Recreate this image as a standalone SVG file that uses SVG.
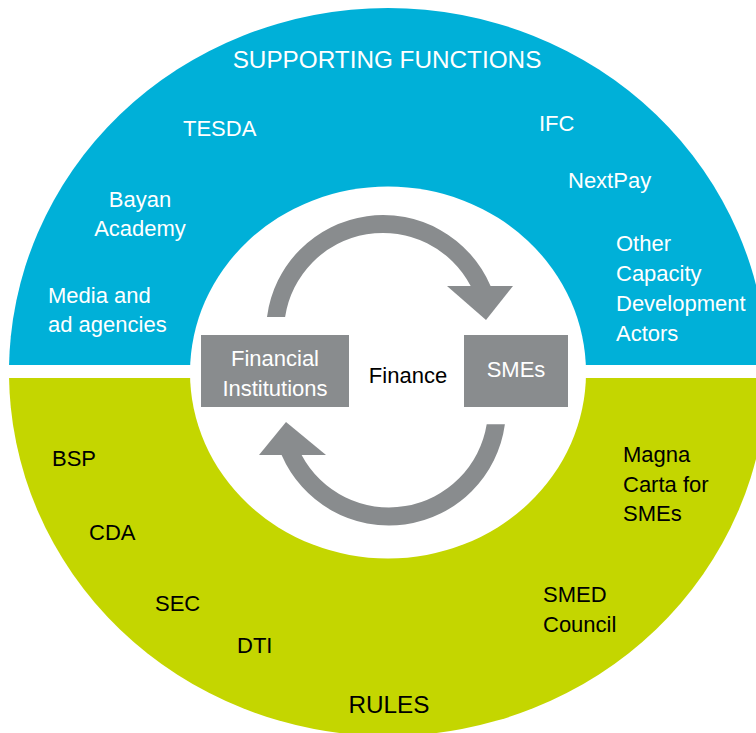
<svg xmlns="http://www.w3.org/2000/svg" width="756" height="733" viewBox="0 0 756 733">
<defs>
<style>
.lbl{font-family:"Liberation Sans",Arial,Helvetica,sans-serif;font-size:22px;}
.w{fill:#ffffff;}
.k{fill:#000000;}
.title{font-family:"Liberation Sans",Arial,Helvetica,sans-serif;font-size:24.3px;}
.box{fill:#898C8E;}
.arr{fill:#898C8E;}
.boxt{font-family:"Liberation Sans",Arial,Helvetica,sans-serif;font-size:22px;fill:#ffffff;text-anchor:middle;}
</style>
<clipPath id="topClip"><rect x="0" y="0" width="756" height="365"/></clipPath>
<clipPath id="botClip"><rect x="0" y="378" width="756" height="355"/></clipPath>
</defs>
<rect width="756" height="733" fill="#ffffff"/>
<g id="supporting-functions">
<ellipse cx="388" cy="372" rx="379" ry="364" fill="#00B0D8" clip-path="url(#topClip)"/>
<text class="title w" x="387" y="68" text-anchor="middle">SUPPORTING FUNCTIONS</text>
<text class="lbl w" x="183" y="136">TESDA</text>
<text class="lbl w" x="140" y="207" text-anchor="middle">Bayan</text>
<text class="lbl w" x="140" y="236" text-anchor="middle">Academy</text>
<text class="lbl w" x="48" y="303">Media and</text>
<text class="lbl w" x="48" y="332">ad agencies</text>
<text class="lbl w" x="539" y="131">IFC</text>
<text class="lbl w" x="568" y="188">NextPay</text>
<text class="lbl w" x="616" y="251">Other</text>
<text class="lbl w" x="616" y="281">Capacity</text>
<text class="lbl w" x="616" y="311">Development</text>
<text class="lbl w" x="616" y="341">Actors</text>
</g>
<g id="rules">
<ellipse cx="388" cy="372" rx="379" ry="364" fill="#C4D600" clip-path="url(#botClip)"/>
<text class="title k" x="389" y="713" text-anchor="middle">RULES</text>
<text class="lbl k" x="52" y="466">BSP</text>
<text class="lbl k" x="89" y="540">CDA</text>
<text class="lbl k" x="155" y="611">SEC</text>
<text class="lbl k" x="237" y="653">DTI</text>
<text class="lbl k" x="623" y="462">Magna</text>
<text class="lbl k" x="623" y="492">Carta for</text>
<text class="lbl k" x="623" y="521">SMEs</text>
<text class="lbl k" x="543" y="602">SMED</text>
<text class="lbl k" x="543" y="632">Council</text>
</g>
<g id="finance-core">
<ellipse cx="388" cy="372.5" rx="198" ry="186" fill="#ffffff"/>
<text x="408" y="383" font-family="Liberation Sans, Arial, sans-serif" font-size="22" fill="#000000" text-anchor="middle">Finance</text>
</g>
<g id="connectors">
<path class="arr" d="M 267 317 A 117 117 0 0 1 490.6 286 L 470.7 286 A 99 99 0 0 0 285.1 317 Z"/>
<polygon class="arr" points="447,286 513,286 486,320"/>
<path class="arr" d="M 504.9 424.3 A 117 117 0 0 1 281.6 455 L 301.6 455 A 99 99 0 0 0 486.7 424.3 Z"/>
<polygon class="arr" points="259,455 326,455 286,422"/>
</g>
<g id="financial-institutions">
<rect class="box" x="201" y="335" width="148" height="72"/>
<text class="boxt" x="275" y="366">Financial</text>
<text class="boxt" x="275" y="396">Institutions</text>
</g>
<g id="smes">
<rect class="box" x="464" y="335" width="104" height="72"/>
<text class="boxt" x="516" y="377">SMEs</text>
</g>
</svg>
